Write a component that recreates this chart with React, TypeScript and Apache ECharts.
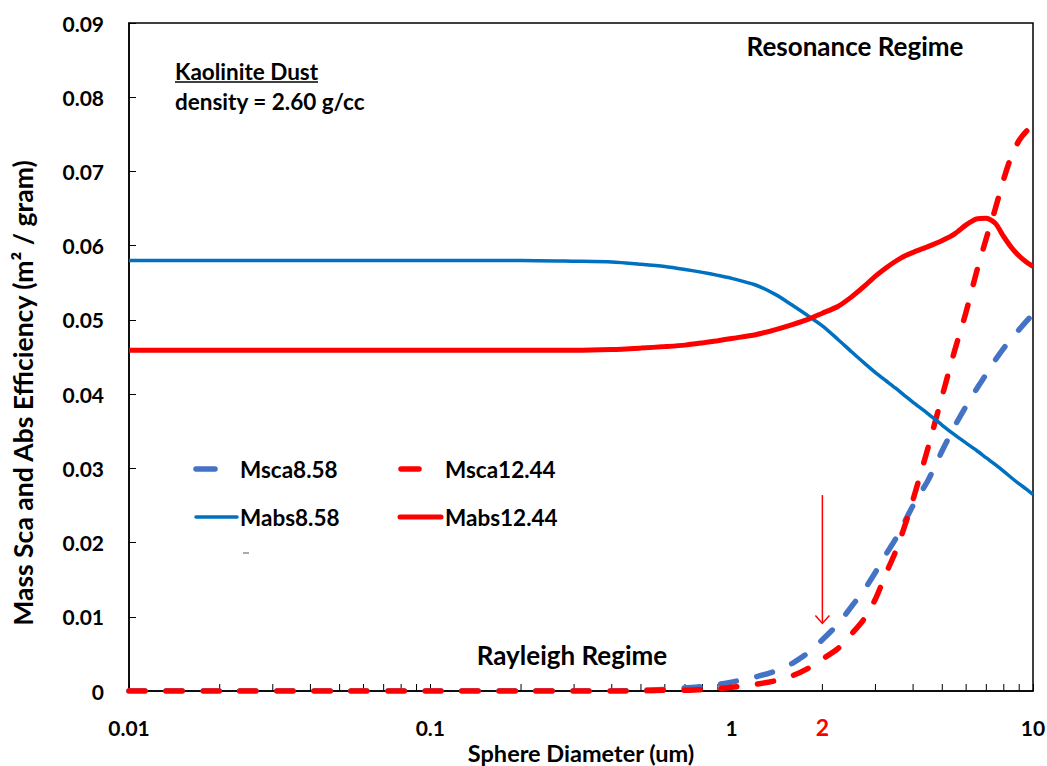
import React, { useEffect, useRef } from "react";
import * as echarts from "echarts";

// Sphere diameters (um) at which the curves were read
const diameters = [
  0.01, 0.02, 0.05, 0.1, 0.2, 0.3, 0.4, 0.5, 0.6, 0.7, 0.8, 0.9, 1.0, 1.2, 1.4, 1.6, 1.8, 2.0,
  2.25, 2.5, 2.75, 3.0, 3.25, 3.5, 3.75, 4.0, 4.5, 5.0, 5.5, 6.0, 6.5, 7.0, 7.5, 8.0, 8.5, 9.0, 9.5, 10,
];

const msca858 = [
  0, 0, 0, 0, 0, 0, 0, 0.0001, 0.0002, 0.0004, 0.0006, 0.0009, 0.0012, 0.0019, 0.0027, 0.0038, 0.0052, 0.0069,
  0.009, 0.0114, 0.0136, 0.016, 0.0184, 0.0205, 0.0228, 0.025, 0.0285, 0.0324, 0.0357, 0.0384, 0.0407, 0.0427,
  0.0446, 0.0462, 0.0475, 0.0487, 0.0498, 0.0508,
];

const msca1244 = [
  0, 0, 0, 0, 0, 0, 0, 0, 0.0001, 0.0001, 0.0002, 0.0003, 0.0005, 0.0009, 0.0014, 0.0021, 0.0031, 0.0043,
  0.0057, 0.0077, 0.0097, 0.0124, 0.0158, 0.0188, 0.0222, 0.0258, 0.033, 0.0398, 0.0459, 0.0511, 0.0565, 0.061,
  0.065, 0.069, 0.0722, 0.0742, 0.0754, 0.0762,
];

const mabs858 = [
  0.058, 0.058, 0.058, 0.058, 0.058, 0.0579, 0.0578, 0.0575, 0.0572, 0.0568, 0.0564, 0.056, 0.0556, 0.0547, 0.0534,
  0.0519, 0.0505, 0.0492, 0.0474, 0.0457, 0.0442, 0.0429, 0.0418, 0.0408, 0.0398, 0.0389, 0.0373, 0.0358, 0.0345,
  0.0334, 0.0324, 0.0314, 0.0305, 0.0296, 0.0287, 0.0279, 0.0272, 0.0265,
];

const mabs1244 = [
  0.0459, 0.0459, 0.0459, 0.0459, 0.0459, 0.0459, 0.046, 0.0462, 0.0464, 0.0466, 0.0469, 0.0472, 0.0475, 0.048,
  0.0487, 0.0494, 0.0501, 0.0509, 0.0518, 0.0531, 0.0545, 0.0559, 0.057, 0.0579, 0.0586, 0.0591, 0.0599, 0.0607,
  0.0616, 0.0628, 0.0636, 0.0637, 0.063, 0.0612, 0.0597, 0.0586, 0.0578, 0.0572,
];

// minor tick positions on the log axis
const minorTicks = [
  0.02, 0.03, 0.04, 0.05, 0.06, 0.07, 0.08, 0.09,
  0.2, 0.3, 0.4, 0.5, 0.6, 0.7, 0.8, 0.9,
  2, 3, 4, 5, 6, 7, 8, 9,
];

// highlighted diameter and arrow extent
const markDiameter = 2;
const arrowFrom = 0.0264;
const arrowTo = 0.0091;

const FONT = "Lato";
const BLUE_DASH = "#4472C4";
const BLUE = "#0070C0";
const RED = "#FF0000";

export default function App() {
  const ref = useRef<HTMLDivElement>(null);

  useEffect(() => {
    const chart = echarts.init(ref.current!, null, { renderer: "svg" });
    const pairs = (ys: number[]) => diameters.map((d, i) => [d, ys[i]]);
    const dashStyle = (color: string) => ({
      color,
      width: 5.5,
      type: [16, 21],
      cap: "round",
      join: "round",
    });

    chart.setOption({
      animation: false,
      backgroundColor: "#fff",
      textStyle: { fontFamily: FONT, fontWeight: "bold", color: "#000" },
      grid: {
        left: 129,
        right: 14,
        top: 23,
        bottom: 75,
        show: true,
        borderColor: "#000",
        borderWidth: 1.5,
        backgroundColor: "transparent",
        containLabel: false,
        outerBoundsMode: "none",
      },
      xAxis: {
        type: "log",
        logBase: 10,
        min: 0.01,
        max: 10,
        name: "Sphere Diameter (um)",
        nameLocation: "middle",
        nameGap: 50,
        nameMoveOverlap: false,
        nameTextStyle: { fontSize: 23.5, fontWeight: "bold", color: "#000", fontFamily: FONT },
        axisLine: { lineStyle: { color: "#000", width: 1.5 } },
        axisTick: { inside: true, length: 7, lineStyle: { color: "#000", width: 1 } },
        minorTick: { show: false },
        axisLabel: {
          margin: 26,
          fontSize: 21,
          fontWeight: "bold",
          color: "#000",
          fontFamily: FONT,
          formatter: (v: number) => String(v),
        },
        splitLine: { show: false },
      },
      yAxis: {
        type: "value",
        min: 0,
        max: 0.09,
        interval: 0.01,
        name: "Mass Sca and Abs Efficiency (m\u00B2 / gram)",
        nameLocation: "middle",
        nameRotate: 90,
        nameGap: 93,
        nameMoveOverlap: false,
        nameTextStyle: {
          fontSize: 26.5,
          fontWeight: "bold",
          color: "#000",
          fontFamily: FONT,
          padding: [0, 72, 0, 0],
        },
        axisLine: { show: true, lineStyle: { color: "#000", width: 1.5 } },
        axisTick: { show: true, inside: true, length: 7, lineStyle: { color: "#000", width: 1 } },
        axisLabel: {
          margin: 25,
          fontSize: 21,
          fontWeight: "bold",
          color: "#000",
          fontFamily: FONT,
          formatter: (v: number) => (v === 0 ? "0" : v.toFixed(2)),
        },
        splitLine: { show: false },
      },
      series: [
        {
          name: "Msca8.58",
          type: "line",
          data: pairs(msca858),
          showSymbol: false,
          symbol: "none",
          smooth: 0.25,
          lineStyle: dashStyle(BLUE_DASH),
          z: 2,
        },
        {
          name: "Msca12.44",
          type: "line",
          data: pairs(msca1244),
          showSymbol: false,
          symbol: "none",
          smooth: 0.25,
          lineStyle: dashStyle(RED),
          z: 3,
        },
        {
          name: "Mabs8.58",
          type: "line",
          data: pairs(mabs858),
          showSymbol: false,
          symbol: "none",
          smooth: 0.25,
          lineStyle: { color: BLUE, width: 3.5 },
          z: 4,
        },
        {
          name: "Mabs12.44",
          type: "line",
          data: pairs(mabs1244),
          showSymbol: false,
          symbol: "none",
          smooth: 0.25,
          lineStyle: { color: RED, width: 5 },
          z: 5,
        },
      ],
    });

    const px = (x: number, y: number) =>
      chart.convertToPixel({ gridIndex: 0 }, [x, y]) as number[];
    const axisY = px(1, 0)[1];
    const graphics: any[] = [];

    // log minor ticks
    minorTicks.forEach((v) => {
      const x = px(v, 0)[0];
      graphics.push({
        type: "line",
        shape: { x1: x, y1: axisY, x2: x, y2: axisY - 7 },
        style: { stroke: "#000", lineWidth: 1 },
        silent: true,
      });
    });

    // red "2" label and arrow
    const a0 = px(markDiameter, arrowFrom);
    const a1 = px(markDiameter, arrowTo);
    graphics.push({
      type: "text",
      x: a0[0],
      y: axisY + 24,
      style: {
        text: String(markDiameter),
        fill: RED,
        font: `bold 23px ${FONT}`,
        textAlign: "center",
        textVerticalAlign: "top",
      },
      silent: true,
    });
    graphics.push({
      type: "line",
      shape: { x1: a0[0], y1: a0[1], x2: a1[0], y2: a1[1] - 1 },
      style: { stroke: RED, lineWidth: 1.5 },
      silent: true,
      z: 20,
    });
    graphics.push({
      type: "polyline",
      shape: { points: [[a1[0] - 7, a1[1] - 8], [a1[0], a1[1]], [a1[0] + 7, a1[1] - 8]] },
      style: { stroke: RED, lineWidth: 1.5, fill: "none" },
      silent: true,
      z: 20,
    });

    // annotation texts
    const txt = (text: string, x: number, y: number, size: number, align = "left") => ({
      type: "text",
      x,
      y,
      style: {
        text,
        fill: "#000",
        font: `bold ${size}px ${FONT}`,
        textAlign: align,
        textVerticalAlign: "middle",
      },
      silent: true,
      z: 10,
    });
    graphics.push(txt("Resonance Regime", 855, 46, 26, "center"));
    graphics.push(txt("Rayleigh Regime", 572, 655, 26, "center"));
    graphics.push(txt("Kaolinite Dust", 175, 71, 22.5));
    graphics.push(txt("density = 2.60 g/cc", 175, 101, 22.5));
    graphics.push({
      type: "line",
      shape: { x1: 175, y1: 82, x2: 318, y2: 82 },
      style: { stroke: "#000", lineWidth: 1.5 },
      silent: true,
    });

    // legend
    const legendItems = [
      { name: "Msca8.58", x1: 196, x2: 215, tx: 240, y: 469, color: BLUE_DASH, w: 5.5 },
      { name: "Msca12.44", x1: 401, x2: 419, tx: 445, y: 469, color: RED, w: 5.5 },
      { name: "Mabs8.58", x1: 196, x2: 237, tx: 240, y: 517, color: BLUE, w: 3.5 },
      { name: "Mabs12.44", x1: 400, x2: 441, tx: 445, y: 517, color: RED, w: 5 },
    ];
    legendItems.forEach((it) => {
      graphics.push({
        type: "line",
        shape: { x1: it.x1, y1: it.y, x2: it.x2, y2: it.y },
        style: { stroke: it.color, lineWidth: it.w, lineCap: "round" },
        silent: true,
        z: 10,
      });
      graphics.push(txt(it.name, it.tx, it.y, 22.5));
    });
    graphics.push({
      type: "line",
      shape: { x1: 243, y1: 553, x2: 249, y2: 553 },
      style: { stroke: "#555", lineWidth: 1 },
      silent: true,
    });

    chart.setOption({ graphic: graphics });

    return () => chart.dispose();
  }, []);

  return (
    <div
      ref={ref}
      style={{ position: "fixed", left: 0, top: 0, width: 1047, height: 766, background: "#fff" }}
    />
  );
}
